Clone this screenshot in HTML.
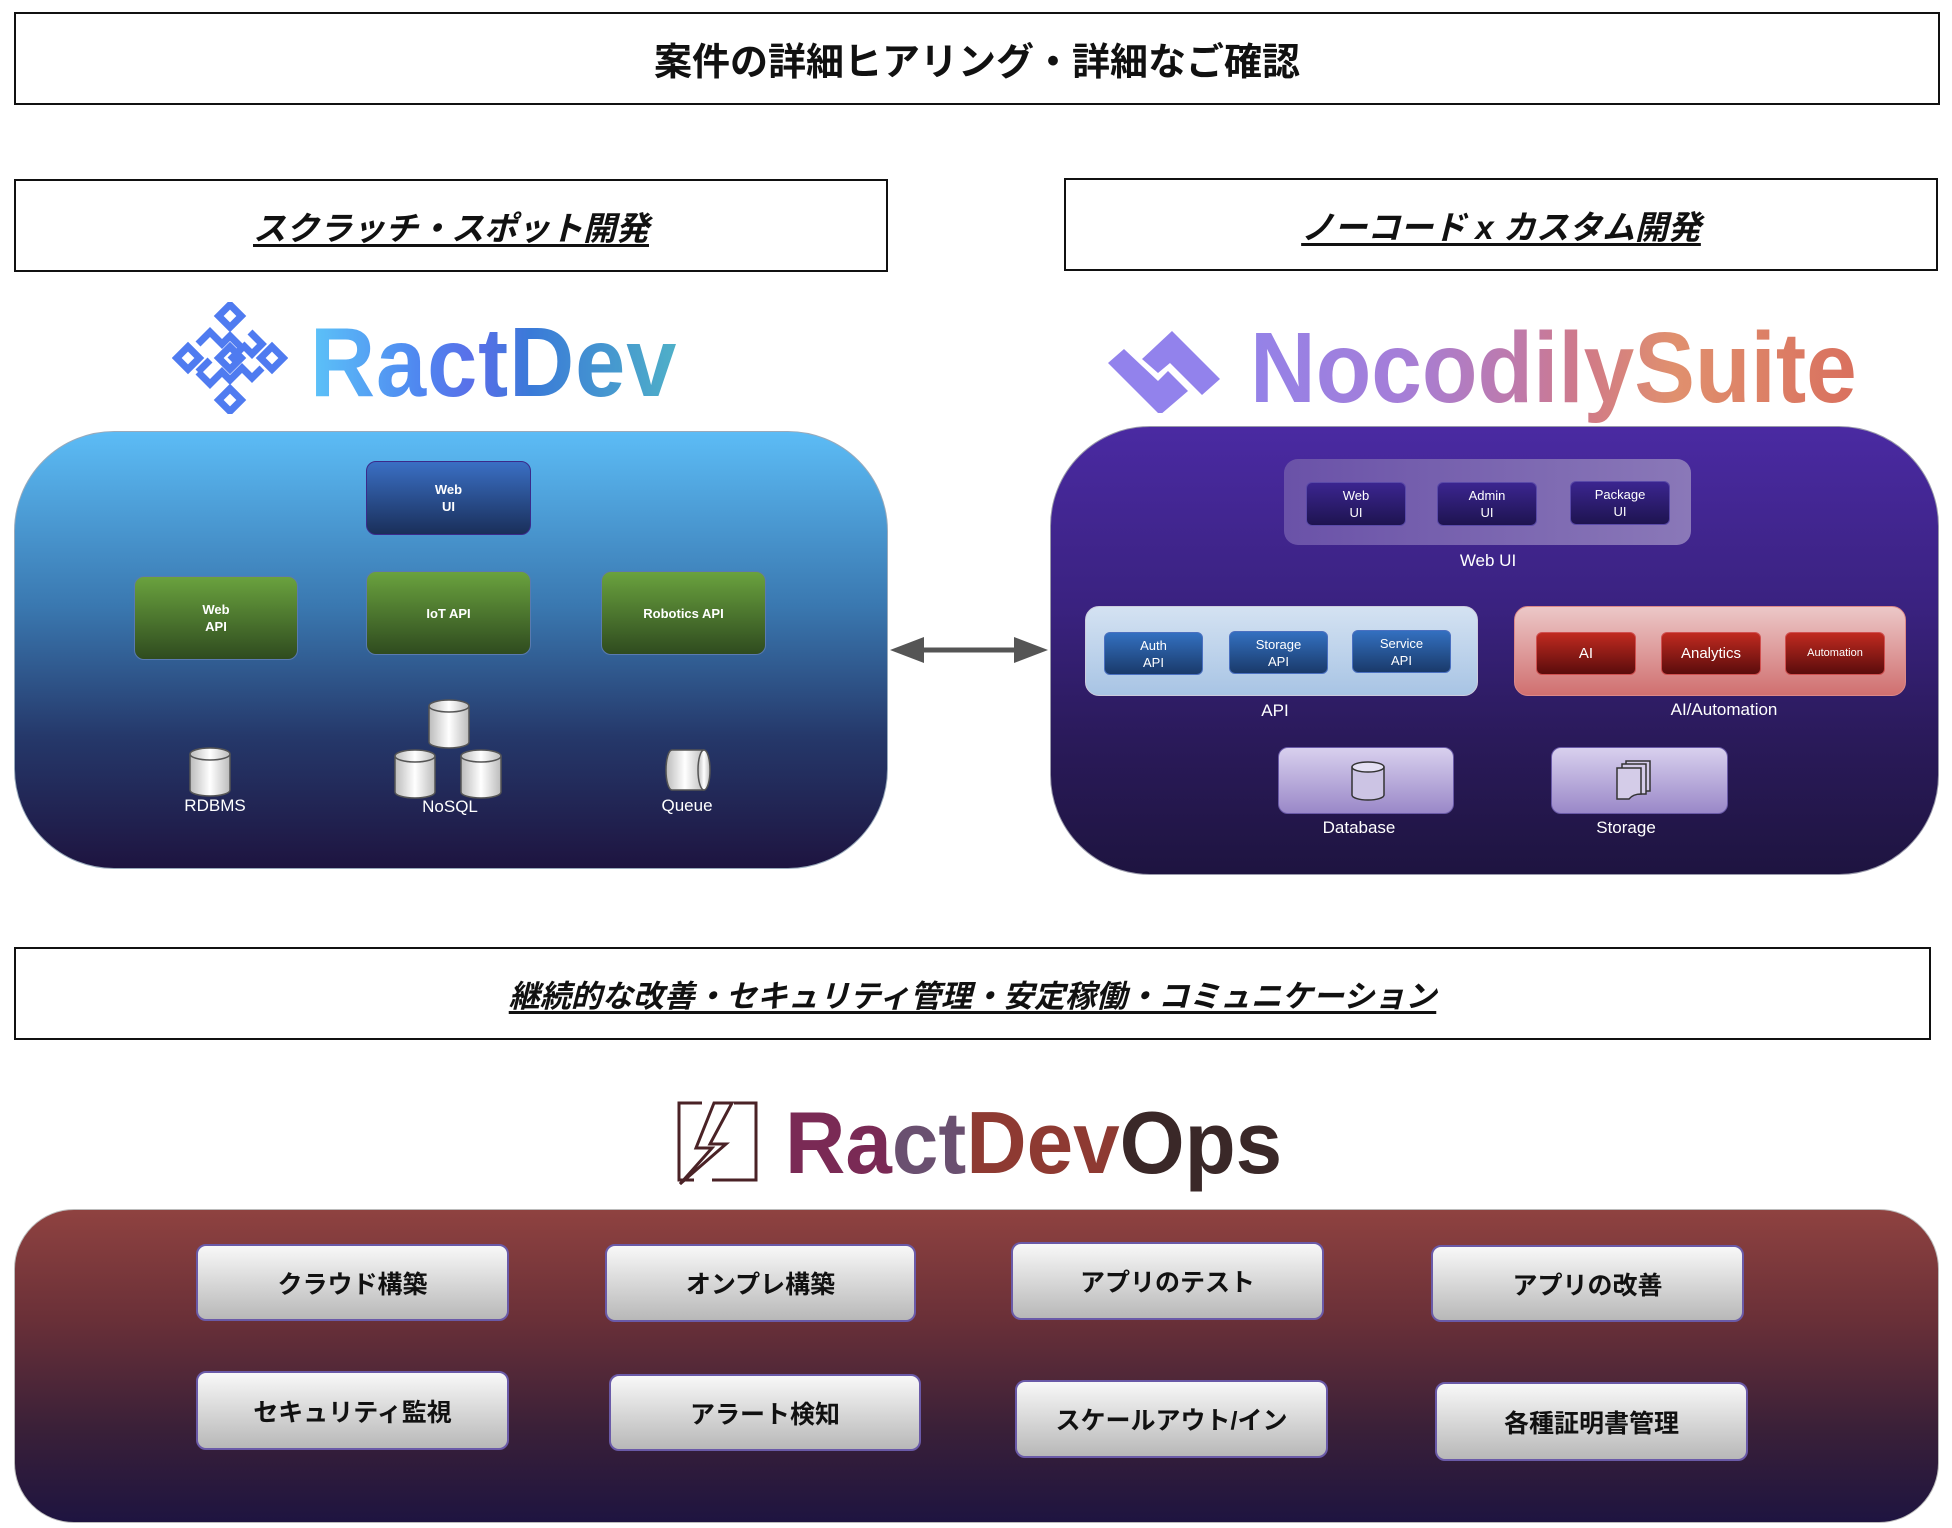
<!DOCTYPE html>
<html><head><meta charset="utf-8"><style>
*{margin:0;padding:0;box-sizing:border-box}
body{width:1952px;height:1528px;background:#fff;position:relative;overflow:hidden;font-family:"Liberation Sans","Noto Sans CJK JP",sans-serif}
.a{position:absolute}
.hb{position:absolute;border:2px solid #111;background:#fff;display:flex;align-items:center;justify-content:center;font-weight:bold;color:#111}
.hb.i span{font-style:italic;text-decoration:underline;text-underline-offset:4px}
.n{position:absolute;display:flex;align-items:center;justify-content:center;text-align:center;color:#fff;font-weight:bold;font-size:13px;line-height:17px;border-radius:10px}
.blue{background:linear-gradient(#3a6fc4,#1a2f5a);border:1.5px solid #3b2a8a}
.green{background:linear-gradient(#6aa23e,#2f4b1f);border:1.5px solid #5a7ab0}
.pu{background:linear-gradient(#3b2590,#1e1450);border:1.5px solid #5a4aa8;font-weight:normal;font-size:13px;border-radius:6px}
.bl{background:linear-gradient(#3370c0,#1a3a6a);border:1.5px solid #4a70c0;font-weight:normal;font-size:13px;border-radius:6px}
.rd{background:linear-gradient(#c02a20,#5a0c0c);border:1.5px solid #d05050;font-weight:normal;font-size:15px;border-radius:6px}
.lbl{position:absolute;color:#fff;font-size:17px;transform:translateX(-50%);white-space:nowrap}
.btn{position:absolute;display:flex;align-items:center;justify-content:center;background:linear-gradient(#f8f8f8,#b8b8b8);border:2px solid #6a5aa8;border-radius:10px;font-weight:bold;font-size:25px;color:#111}
.logo{position:absolute;font-weight:bold;-webkit-background-clip:text;background-clip:text;color:transparent;white-space:nowrap;letter-spacing:1px;transform-origin:left center}
</style></head><body>

<div class="hb" style="left:14px;top:12px;width:1926px;height:93px;font-size:38px">案件の詳細ヒアリング・詳細なご確認</div>
<div class="hb i" style="left:14px;top:179px;width:874px;height:93px;font-size:33px"><span>スクラッチ・スポット開発</span></div>
<div class="hb i" style="left:1064px;top:178px;width:874px;height:93px;font-size:33px"><span>ノーコード x カスタム開発</span></div>

<!-- RactDev logo -->
<svg class="a" style="left:172px;top:302px" width="116" height="112" viewBox="0 0 116 112">
<g fill="none" stroke="#4f7bf0" stroke-width="7">
<rect x="50" y="6" width="16" height="16" transform="rotate(45 58 14)"/>
<rect x="8" y="48" width="16" height="16" transform="rotate(45 16 56)"/>
<rect x="50" y="48" width="16" height="16" transform="rotate(45 58 56)"/>
<rect x="92" y="48" width="16" height="16" transform="rotate(45 100 56)"/>
<rect x="50" y="90" width="16" height="16" transform="rotate(45 58 98)"/>
<path d="M26 42 L38 30 L50 42 L58 34 L70 46 L58 58"/>
<path d="M78 30 L90 42 L80 52 L70 42"/>
<path d="M26 70 L38 82 L50 70 L58 78 L70 66 L80 76 L90 66"/>
<path d="M38 58 L26 70"/>
</g></svg>
<div class="logo" style="left:310px;top:302px;font-size:98px;line-height:120px;transform:scaleX(0.92);background-image:linear-gradient(90deg,#5cc3f8,#4f86f0 30%,#5a6ee8 45%,#3a7ad8 60%,#4fb0c8)">RactDev</div>

<!-- Left panel -->
<div class="a" style="left:14px;top:431px;width:874px;height:438px;border-radius:100px;background:linear-gradient(#5cbcf6,#3a78b0 40%,#25386a 70%,#1e1440);border:1px solid #9ab"></div>
<div class="n blue" style="left:366px;top:461px;width:165px;height:74px">Web<br>UI</div>
<div class="n green" style="left:134px;top:576px;width:164px;height:84px">Web<br>API</div>
<div class="n green" style="left:366px;top:571px;width:165px;height:84px">IoT API</div>
<div class="n green" style="left:601px;top:571px;width:165px;height:84px">Robotics API</div>
<svg class="a" style="left:0;top:0" width="900" height="850">
<defs><linearGradient id="cy" x1="0" x2="1"><stop offset="0" stop-color="#bbb"/><stop offset=".5" stop-color="#fff"/><stop offset="1" stop-color="#bbb"/></linearGradient></defs>
<g fill="url(#cy)" stroke="#555" stroke-width="1.5">
<path d="M190 754 v36 a20 6 0 0 0 40 0 v-36"/><ellipse cx="210" cy="754" rx="20" ry="6"/>
<path d="M429 706 v36 a20 6 0 0 0 40 0 v-36"/><ellipse cx="449" cy="706" rx="20" ry="6"/>
<path d="M395 756 v36 a20 6 0 0 0 40 0 v-36"/><ellipse cx="415" cy="756" rx="20" ry="6"/>
<path d="M461 756 v36 a20 6 0 0 0 40 0 v-36"/><ellipse cx="481" cy="756" rx="20" ry="6"/>
<path d="M704 750 h-32 a6 20 0 0 0 0 40 h32"/><ellipse cx="704" cy="770" rx="6" ry="20"/>
</g></svg>
<div class="lbl" style="left:215px;top:796px">RDBMS</div>
<div class="lbl" style="left:450px;top:797px">NoSQL</div>
<div class="lbl" style="left:687px;top:796px">Queue</div>

<!-- arrow -->
<svg class="a" style="left:888px;top:630px" width="162" height="40">
<line x1="30" y1="20" x2="132" y2="20" stroke="#555" stroke-width="5"/>
<polygon points="2,20 36,7 36,33" fill="#555"/><polygon points="160,20 126,7 126,33" fill="#555"/>
</svg>

<!-- Nocodily logo -->
<svg class="a" style="left:1106px;top:323px" width="116" height="90" viewBox="0 0 116 90">
<polygon fill="#9282ec" points="2,40 18,26 52,58 62,48 82,68 54,92" />
<polygon fill="#9282ec" points="36,36 66,8 114,56 96,72 64,40 52,50"/>
</svg>
<div class="logo" style="left:1250px;top:306px;font-size:100px;line-height:124px;letter-spacing:0;transform:scaleX(0.91);background-image:linear-gradient(90deg,#9482e8,#a57ed8 25%,#c07aa8 45%,#d07a88 55%,#e0906e 70%,#d9705e)">NocodilySuite</div>

<!-- right panel -->
<div class="a" style="left:1050px;top:426px;width:889px;height:449px;border-radius:100px;background:linear-gradient(#4a2aa2,#3a2280 40%,#2a1a5a 70%,#1e1440);border:1px solid #99a"></div>
<div class="a" style="left:1284px;top:459px;width:407px;height:86px;border-radius:14px;background:linear-gradient(90deg,#6a52a8,#8a78b8)"></div>
<div class="n pu" style="left:1306px;top:482px;width:100px;height:44px">Web<br>UI</div>
<div class="n pu" style="left:1437px;top:482px;width:100px;height:44px">Admin<br>UI</div>
<div class="n pu" style="left:1570px;top:481px;width:100px;height:44px">Package<br>UI</div>
<div class="lbl" style="left:1488px;top:551px">Web UI</div>

<div class="a" style="left:1085px;top:606px;width:393px;height:90px;border-radius:14px;background:linear-gradient(#d4e2f2,#a8c4e4);border:1px solid #ccd"></div>
<div class="n bl" style="left:1104px;top:632px;width:99px;height:43px">Auth<br>API</div>
<div class="n bl" style="left:1229px;top:631px;width:99px;height:43px">Storage<br>API</div>
<div class="n bl" style="left:1352px;top:630px;width:99px;height:43px">Service<br>API</div>
<div class="lbl" style="left:1275px;top:701px">API</div>

<div class="a" style="left:1514px;top:606px;width:392px;height:90px;border-radius:14px;background:linear-gradient(#ecc8c8,#d07070);border:1px solid #d88"></div>
<div class="n rd" style="left:1536px;top:632px;width:100px;height:43px">AI</div>
<div class="n rd" style="left:1661px;top:632px;width:100px;height:43px">Analytics</div>
<div class="n rd" style="left:1785px;top:632px;width:100px;height:43px;font-size:11px">Automation</div>
<div class="lbl" style="left:1724px;top:700px">AI/Automation</div>

<div class="a" style="left:1278px;top:747px;width:176px;height:67px;border-radius:10px;background:linear-gradient(#d8d0ee,#9a88c8);border:1.5px solid #6a5aa8"></div>
<svg class="a" style="left:1350px;top:760px" width="36" height="42"><path d="M2 7 v28 a16 5 0 0 0 32 0 v-28" fill="#ccc4e4" stroke="#333" stroke-width="1.5"/><ellipse cx="18" cy="7" rx="16" ry="5" fill="#e4e0f4" stroke="#333" stroke-width="1.5"/></svg>
<div class="lbl" style="left:1359px;top:818px">Database</div>
<div class="a" style="left:1551px;top:747px;width:177px;height:67px;border-radius:10px;background:linear-gradient(#d8d0ee,#9a88c8);border:1.5px solid #6a5aa8"></div>
<svg class="a" style="left:1614px;top:760px" width="40" height="42"><g fill="#d4cce8" stroke="#333" stroke-width="1.5"><rect x="12" y="1" width="24" height="30"/><rect x="8" y="4" width="24" height="30"/><path d="M3 8 h24 v26 q-8 0 -12 5 h-12 z"/></g></svg>
<div class="lbl" style="left:1626px;top:818px">Storage</div>

<div class="hb i" style="left:14px;top:947px;width:1917px;height:93px;font-size:31px"><span>継続的な改善・セキュリティ管理・安定稼働・コミュニケーション</span></div>

<!-- RactDevOps logo -->
<svg class="a" style="left:674px;top:1100px" width="88" height="86" viewBox="0 0 88 86">
<g fill="none" stroke="#4a2226" stroke-width="3">
<path d="M28 3 H5 V80 H20"/><path d="M60 3 H82 V80 H38"/>
<path d="M40 3 L22 48 H38 L6 84 L52 44 H36 L58 3 Z"/>
</g></svg>
<div class="a" style="left:785px;top:1088px;font-size:88px;line-height:110px;font-weight:bold;white-space:nowrap;transform:scaleX(0.95);transform-origin:left center"><span style="color:#7a2a55">Ra</span><span style="color:#6a5070">ct</span><span style="color:#8e3a32">Dev</span><span style="color:#3a2828">Ops</span></div>

<!-- bottom panel -->
<div class="a" style="left:14px;top:1209px;width:1925px;height:314px;border-radius:60px;background:linear-gradient(#8f4240,#6a3038 35%,#3a2038 70%,#1e1440);border:1px solid #bbb"></div>
<div class="btn" style="left:196px;top:1244px;width:313px;height:77px">クラウド構築</div>
<div class="btn" style="left:605px;top:1244px;width:311px;height:78px">オンプレ構築</div>
<div class="btn" style="left:1011px;top:1242px;width:313px;height:78px">アプリのテスト</div>
<div class="btn" style="left:1431px;top:1245px;width:313px;height:77px">アプリの改善</div>
<div class="btn" style="left:196px;top:1371px;width:313px;height:79px">セキュリティ監視</div>
<div class="btn" style="left:609px;top:1374px;width:312px;height:77px">アラート検知</div>
<div class="btn" style="left:1015px;top:1380px;width:313px;height:78px">スケールアウト/イン</div>
<div class="btn" style="left:1435px;top:1382px;width:313px;height:79px">各種証明書管理</div>
</body></html>
